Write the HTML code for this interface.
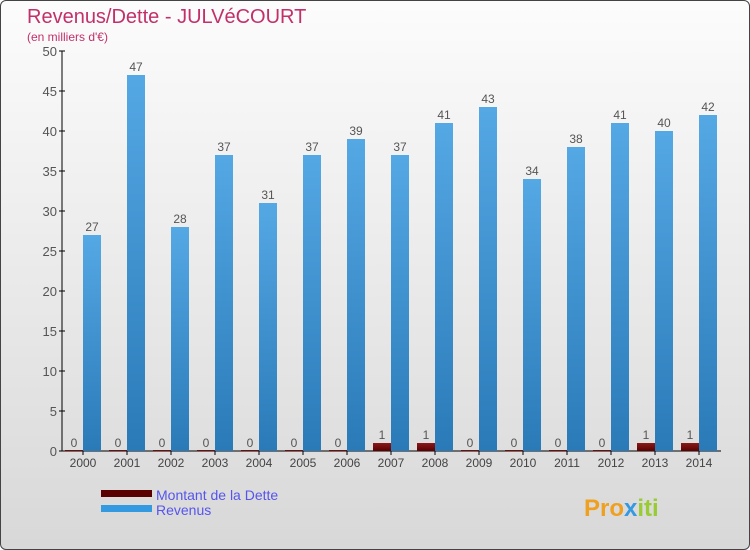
<!DOCTYPE html>
<html><head><meta charset="utf-8"><style>
body{margin:0}
#wrap{position:relative;width:748px;height:548px;border:1px solid #444;border-radius:6px;overflow:hidden;background:linear-gradient(#fcfcfc,#d8d8d8);font-family:"Liberation Sans",sans-serif}
</style></head><body>
<div id="wrap">
<svg id="chart" width="750" height="550">
<defs>
<linearGradient id="gr" x1="0" x2="0" y1="0" y2="1"><stop offset="0" stop-color="#54a8e4"/><stop offset="1" stop-color="#2a7ab8"/></linearGradient>
<linearGradient id="gd" x1="0" x2="0" y1="0" y2="1"><stop offset="0" stop-color="#8a1a1a"/><stop offset="1" stop-color="#5a0000"/></linearGradient>
</defs>
<text x="26" y="22" font-size="20" fill="#c2306a">Revenus/Dette - JULVéCOURT</text>
<text x="26" y="40" font-size="12" fill="#c2306a">(en milliers d'€)</text>
<g id="plot"></g>
<rect x="100" y="489" width="51" height="7" fill="#5a0000"/>
<rect x="100" y="504" width="51" height="7" fill="#3399e0"/>
<text x="155" y="499" font-size="14" fill="#5555ee">Montant de la Dette</text>
<text x="155" y="514" font-size="14" fill="#5555ee">Revenus</text>
<text x="583" y="515" font-size="24" font-weight="bold" fill="#f0a020">Pro<tspan fill="#3399e0">x</tspan><tspan fill="#99cc33">iti</tspan></text>
</svg>
</div>
<script>
const years=["2000","2001","2002","2003","2004","2005","2006","2007","2008","2009","2010","2011","2012","2013","2014"];
const revenus=[27,47,28,37,31,37,39,37,41,43,34,38,41,40,42];
const dette=[0,0,0,0,0,0,0,1,1,0,0,0,0,1,1];
const yTicks=[0,5,10,15,20,25,30,35,40,45,50];
const NS="http://www.w3.org/2000/svg";
const g=document.getElementById("plot");
const y=v=>450-v*8, x=i=>82+i*44;
function mk(t,a,txt){const e=document.createElementNS(NS,t);for(const k in a)e.setAttribute(k,a[k]);if(txt!==undefined)e.textContent=txt;g.appendChild(e);return e;}
let e=mk("line",{x1:61,y1:50,x2:61,y2:450,stroke:"#000"});


e=mk("line",{x1:61,y1:450,x2:720,y2:450,stroke:"#000"});


yTicks.forEach(t=>{
 let l=mk("line",{x1:58,y1:y(t),x2:64,y2:y(t),stroke:"#000"});
 
 
 let s=mk("text",{x:56,y:y(t)+5,"font-size":13,fill:"#555","text-anchor":"end"},t);
 
 
});
years.forEach((yr,i)=>{
 const cx=x(i);
 let tk=mk("line",{x1:cx,y1:450,x2:cx,y2:454,stroke:"#000"});
 
 
 let lb=mk("text",{x:cx,y:466,"font-size":12,fill:"#444","text-anchor":"middle"},yr);
 
 
 const hd=Math.max(dette[i]*8,1);
 let bd=mk("rect",{x:cx-18,y:450-hd,width:18,height:hd,fill:"url(#gd)"});
 
 
 let vd=mk("text",{x:cx-9,y:y(dette[i])-4,"font-size":12,fill:"#555","text-anchor":"middle"},dette[i]);
 
 
 let br=mk("rect",{x:cx,y:y(revenus[i]),width:18,height:revenus[i]*8,fill:"url(#gr)"});
 
 
 let vr=mk("text",{x:cx+9,y:y(revenus[i])-4,"font-size":12,fill:"#555","text-anchor":"middle"},revenus[i]);
 
 
});
</script>
</body></html>
